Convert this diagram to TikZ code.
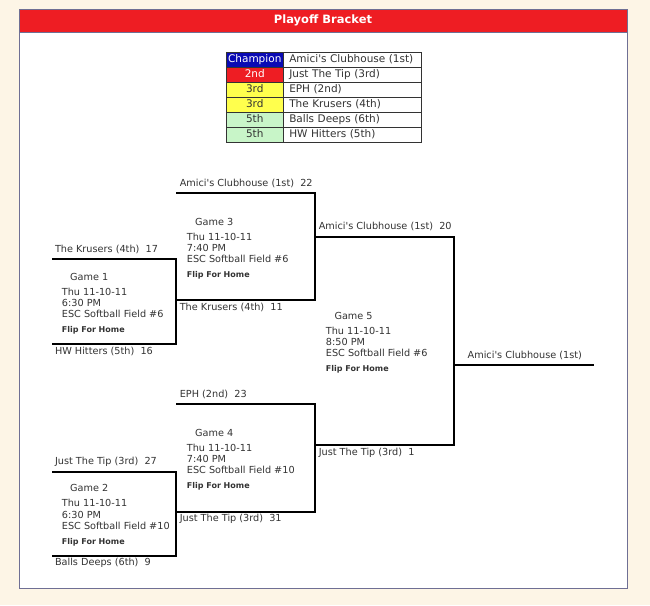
\documentclass[tikz,border=0pt]{standalone}
\usepackage{fontspec}
\setmainfont{DejaVu Sans}
\usetikzlibrary{positioning}
\definecolor{cream}{HTML}{FDF5E6}
\definecolor{panelline}{HTML}{6F6F94}
\definecolor{headred}{HTML}{EE1D23}
\definecolor{champblue}{HTML}{0A0AB4}
\definecolor{third}{HTML}{FFFF4D}
\definecolor{fifth}{HTML}{C8F5C8}
\definecolor{inkgray}{HTML}{333333}
\newcommand{\amici}{Amici\textquotesingle s Clubhouse (1st)}
\newcommand{\flip}{{\bfseries\fontsize{8}{11.3}\selectfont Flip For Home}}

\begin{document}
\begin{tikzpicture}[x=1pt,y=-1pt,
	bracket/.style={line width=1.8pt},
	team/.style={inner sep=0pt,outer sep=0pt,text height=7.5pt,text depth=2pt,font=\fontsize{9.7}{11}\selectfont,text=inkgray},
	gameinfo/.style={anchor=north west,align=left,inner sep=0pt,font=\fontsize{9.7}{11.3}\selectfont,text=inkgray},
	rankcell/.style={draw=inkgray,line width=0.8pt,inner sep=0pt,outer sep=0pt,minimum width=57.5pt,minimum height=15pt,text height=7.6pt,text depth=2.2pt,font=\fontsize{10.5}{12}\selectfont,text=inkgray},
	teamcell/.style={draw=inkgray,line width=0.8pt,inner xsep=5.75pt,inner ysep=0pt,outer sep=0pt,text width=126pt,align=left,minimum height=15pt,text height=7.6pt,text depth=2.2pt,font=\fontsize{10.5}{12}\selectfont,text=inkgray}]
	\useasboundingbox (0,0) rectangle (650,605);
	\fill[cream] (0,0) rectangle (650,605);
	\draw[panelline,fill=white] (19,9) rectangle (627,588);
	\draw[panelline,fill=headred] (19,9) rectangle (627,31.7);
	\node[font=\bfseries\fontsize{11.5}{13}\selectfont,text=white] (title) at (323,20.4) {Playoff Bracket};

	\node[rankcell,fill=champblue,text=white] (r1) at (254.75,59.5) {Champion};
	\node[teamcell,right=0pt of r1] (e1) {\amici};
	\node[rankcell,fill=headred,text=white,below=0pt of r1] (r2) {2nd};
	\node[teamcell,right=0pt of r2] (e2) {Just The Tip (3rd)};
	\node[rankcell,fill=third,below=0pt of r2] (r3) {3rd};
	\node[teamcell,right=0pt of r3] (e3) {EPH (2nd)};
	\node[rankcell,fill=third,below=0pt of r3] (r4) {3rd};
	\node[teamcell,right=0pt of r4] (e4) {The Krusers (4th)};
	\node[rankcell,fill=fifth,below=0pt of r4] (r5) {5th};
	\node[teamcell,right=0pt of r5] (e5) {Balls Deeps (6th)};
	\node[rankcell,fill=fifth,below=0pt of r5] (r6) {5th};
	\node[teamcell,right=0pt of r6] (e6) {HW Hitters (5th)};

	\coordinate (g1a) at (52,259.3);
	\coordinate (g1b) at (176.3,344);
	\coordinate (g1c) at (g1a |- g1b);
	\coordinate (g2a) at (52,471.7);
	\coordinate (g2b) at (176.3,555.7);
	\coordinate (g2c) at (g2a |- g2b);
	\coordinate (g3a) at (176.3,193.3);
	\coordinate (g3b) at (315.3,300);
	\coordinate (g3c) at (g3a |- g3b);
	\coordinate (g4a) at (176.3,404.3);
	\coordinate (g4b) at (315.3,511.7);
	\coordinate (g4c) at (g4a |- g4b);
	\coordinate (g5a) at (315.3,236.7);
	\coordinate (g5b) at (454,445);
	\coordinate (g5c) at (g5a |- g5b);
	\coordinate (fin) at (454,365);
	\coordinate (champ) at (594,365);

	\draw[bracket] (g1a) -| (g1b) -- (g1c);
	\draw[bracket] (g2a) -| (g2b) -- (g2c);
	\draw[bracket] (g3a) -| (g3b) -- (g3c);
	\draw[bracket] (g4a) -| (g4b) -- (g4c);
	\draw[bracket] (g5a) -| (g5b) -- (g5c);
	\draw[bracket] (fin) -- (champ);

	\node[team,above right=5pt and 3pt of g1a] (t1a) {The Krusers (4th)\ \ 17};
	\node[team,below right=2.5pt and 3pt of g1c] (t1b) {HW Hitters (5th)\ \ 16};
	\node[team,above right=5pt and 3pt of g2a] (t2a) {Just The Tip (3rd)\ \ 27};
	\node[team,below right=2.5pt and 3pt of g2c] (t2b) {Balls Deeps (6th)\ \ 9};
	\node[team,above right=5pt and 3.5pt of g3a] (t3a) {\amici\ \ 22};
	\node[team,below right=2.5pt and 3.5pt of g3c] (t3b) {The Krusers (4th)\ \ 11};
	\node[team,above right=5pt and 3.5pt of g4a] (t4a) {EPH (2nd)\ \ 23};
	\node[team,below right=2.5pt and 3.5pt of g4c] (t4b) {Just The Tip (3rd)\ \ 31};
	\node[team,above right=5pt and 3.5pt of g5a] (t5a) {\amici\ \ 20};
	\node[team,below right=2.5pt and 3.5pt of g5c] (t5b) {Just The Tip (3rd)\ \ 1};
	\node[team,above right=5pt and 13.7pt of fin] (win) {\amici};

	\node[gameinfo] (i1) at (61.7,272.8) {\hspace*{8.3pt}Game 1\\[3.7pt]Thu 11-10-11\\6:30 PM\\ESC Softball Field \#6\\[3.7pt]\flip};
	\node[gameinfo] (i2) at (61.7,484.4) {\hspace*{8.3pt}Game 2\\[3.7pt]Thu 11-10-11\\6:30 PM\\ESC Softball Field \#10\\[3.7pt]\flip};
	\node[gameinfo] (i3) at (186.7,217.8) {\hspace*{8.3pt}Game 3\\[3.7pt]Thu 11-10-11\\7:40 PM\\ESC Softball Field \#6\\[3.7pt]\flip};
	\node[gameinfo] (i4) at (186.7,428.8) {\hspace*{8.3pt}Game 4\\[3.7pt]Thu 11-10-11\\7:40 PM\\ESC Softball Field \#10\\[3.7pt]\flip};
	\node[gameinfo] (i5) at (325.7,311.8) {\hspace*{8.6pt}Game 5\\[3.7pt]Thu 11-10-11\\8:50 PM\\ESC Softball Field \#6\\[3.7pt]\flip};
\end{tikzpicture}
\end{document}
